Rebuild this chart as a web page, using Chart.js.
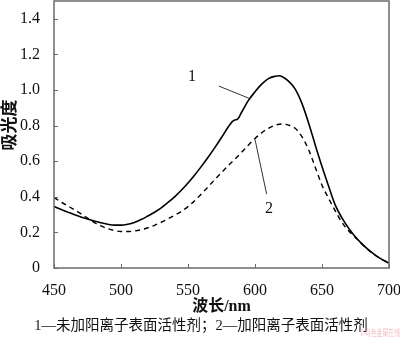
<!DOCTYPE html>
<html>
<head>
<meta charset="utf-8">
<script src="https://cdn.jsdelivr.net/npm/chart.js@4"></script>
<style>
    html, body { margin: 0; padding: 0; background: #fff; }
    #grafico { display: block; }
</style>
</head>
<body>
<canvas id="grafico" width="400" height="340"></canvas>
<script>
// 曲线1：未加阳离子表面活性剂
const lambda1 = [450, 455, 460, 465, 470, 475, 480, 485, 490, 495, 500, 505, 510, 515, 520, 525, 530, 535, 540, 545,
    550, 555, 560, 565, 570, 575, 580, 583, 585, 587, 590, 595, 600, 605, 610, 615, 618, 620, 625, 630,
    635, 640, 645, 650, 655, 660, 665, 670, 675, 680, 685, 690, 695, 700];
const abs1 = [0.345, 0.330, 0.315, 0.300, 0.287, 0.275, 0.264, 0.254, 0.246, 0.241, 0.241, 0.246, 0.256, 0.272, 0.292, 0.313, 0.338, 0.368, 0.400, 0.437,
    0.478, 0.523, 0.571, 0.622, 0.676, 0.733, 0.792, 0.822, 0.832, 0.836, 0.875, 0.940, 0.990, 1.033, 1.064, 1.077, 1.080, 1.076, 1.050, 1.005,
    0.925, 0.815, 0.690, 0.570, 0.458, 0.352, 0.280, 0.222, 0.174, 0.134, 0.100, 0.071, 0.047, 0.028];

// 曲线2：加阳离子表面活性剂
const lambda2 = [450, 455, 460, 465, 470, 475, 480, 485, 490, 495, 500, 505, 510, 515, 520, 525, 530, 535, 540, 545,
    550, 555, 560, 565, 570, 575, 580, 585, 590, 595, 600, 605, 610, 615, 620, 625, 630, 635, 640, 645,
    650, 655, 660, 665, 670, 675, 680, 685, 690, 695, 700];
const abs2 = [0.396, 0.372, 0.350, 0.328, 0.305, 0.280, 0.256, 0.236, 0.221, 0.211, 0.205, 0.205, 0.208, 0.215, 0.226, 0.240, 0.257, 0.276, 0.296, 0.318,
    0.345, 0.378, 0.416, 0.456, 0.496, 0.536, 0.575, 0.612, 0.650, 0.690, 0.728, 0.760, 0.785, 0.802, 0.809, 0.803, 0.785, 0.738, 0.665, 0.565,
    0.465, 0.390, 0.320, 0.255, 0.208, 0.170, 0.133, 0.099, 0.070, 0.047, 0.028];

// 坐标轴刻度
const xTicks = [450, 500, 550, 600, 650, 700];
const yTicks = [0, 0.2, 0.4, 0.6, 0.8, 1.0, 1.2, 1.4];

// 曲线编号及引线（数据坐标）
const curveTags = ['1', '2'];
const tagAt = [[553, 1.072], [610.4, 0.333]];
const leaderFrom = [[573, 1.022], [600, 0.722]];
const leaderTo = [[596, 0.952], [608.7, 0.415]];

const captionText = '1—未加阳离子表面活性剂；2—加阳离子表面活性剂';

const serif = '"Liberation Serif", "Noto Sans CJK SC", serif';
const frameColor = '#6b6b6b';

function toPoints(xs, ys) {
    return xs.map((x, i) => ({ x: x, y: ys[i] }));
}

// 边框、内向刻度、编号、纵轴标题和图注
const decoraciones = {
    id: 'decoraciones',
    afterDraw(chart) {
        const ctx = chart.ctx;
        const area = chart.chartArea;
        const sx = chart.scales.x;
        const sy = chart.scales.y;

        ctx.save();
        ctx.strokeStyle = frameColor;
        ctx.lineWidth = 1.5;
        ctx.strokeRect(area.left, area.top, area.right - area.left, area.bottom - area.top);

        ctx.lineWidth = 1;
        ctx.beginPath();
        xTicks.forEach(v => {
            const px = Math.round(sx.getPixelForValue(v)) + 0.5;
            ctx.moveTo(px, area.bottom);
            ctx.lineTo(px, area.bottom - 4);
        });
        yTicks.forEach(v => {
            const py = Math.round(sy.getPixelForValue(v)) + 0.5;
            ctx.moveTo(area.left, py);
            ctx.lineTo(area.left + 4, py);
        });
        ctx.stroke();

        ctx.fillStyle = '#111';
        ctx.font = '16px ' + serif;
        ctx.textAlign = 'center';
        ctx.textBaseline = 'middle';
        curveTags.forEach((t, i) => {
            ctx.fillText(t, sx.getPixelForValue(tagAt[i][0]), sy.getPixelForValue(tagAt[i][1]));
        });

        ctx.save();
        ctx.translate(9, 125);
        ctx.rotate(-Math.PI / 2);
        ctx.font = 'bold 17px "Noto Sans CJK SC", sans-serif';
        ctx.fillText('吸光度', 0, 0);
        ctx.restore();

        ctx.font = '14.5px ' + serif;
        ctx.fillText(captionText, 201, 326);

        ctx.font = '9px "Noto Sans CJK SC", sans-serif';
        ctx.textAlign = 'left';
        ctx.fillStyle = 'rgba(225, 110, 125, 0.45)';
        ctx.fillText('©有色金属在线', 360, 333, 40);
        ctx.restore();
    }
};

const lineas = [
    {
        label: '1',
        data: toPoints(lambda1, abs1),
        borderColor: '#000',
        borderWidth: 1.6,
        pointRadius: 0,
        cubicInterpolationMode: 'monotone'
    },
    {
        label: '2',
        data: toPoints(lambda2, abs2),
        borderColor: '#000',
        borderWidth: 1.4,
        borderDash: [5, 4],
        pointRadius: 0,
        cubicInterpolationMode: 'monotone'
    }
];
leaderFrom.forEach((p, i) => {
    lineas.push({
        label: 'guia' + (i + 1),
        data: [{ x: p[0], y: p[1] }, { x: leaderTo[i][0], y: leaderTo[i][1] }],
        borderColor: '#333',
        borderWidth: 1,
        pointRadius: 0
    });
});

new Chart(document.getElementById('grafico').getContext('2d'), {
    type: 'line',
    data: { datasets: lineas },
    options: {
        responsive: false,
        animation: false,
        layout: { padding: { left: 0, right: 11, top: 1, bottom: 0 } },
        plugins: {
            legend: { display: false },
            tooltip: { enabled: false }
        },
        scales: {
            x: {
                type: 'linear',
                min: 450,
                max: 700,
                afterFit: function (scale) {
                    scale.height = 72;
                    scale.paddingLeft = 0;
                    scale.paddingRight = 0;
                },
                afterBuildTicks: function (scale) { scale.ticks = xTicks.map(v => ({ value: v })); },
                grid: { display: false },
                border: { display: false },
                ticks: {
                    color: '#111',
                    padding: 5,
                    maxRotation: 0,
                    font: { family: serif, size: 16 }
                },
                title: {
                    display: true,
                    text: '波长/nm',
                    color: '#111',
                    font: { family: serif, size: 16, weight: 'bold', lineHeight: 1.2 },
                    padding: { top: 0, bottom: 24 }
                }
            },
            y: {
                min: 0,
                max: 1.5,
                afterFit: function (scale) {
                    scale.width = 54;
                    scale.paddingTop = 0;
                    scale.paddingBottom = 0;
                },
                afterBuildTicks: function (scale) { scale.ticks = yTicks.map(v => ({ value: v })); },
                grid: { display: false },
                border: { display: false },
                ticks: {
                    color: '#111',
                    padding: 6,
                    font: { family: serif, size: 16 },
                    callback: function (value) {
                        return value === 0 ? '0' : value.toFixed(1);
                    }
                }
            }
        }
    },
    plugins: [decoraciones]
});
</script>
</body>
</html>
